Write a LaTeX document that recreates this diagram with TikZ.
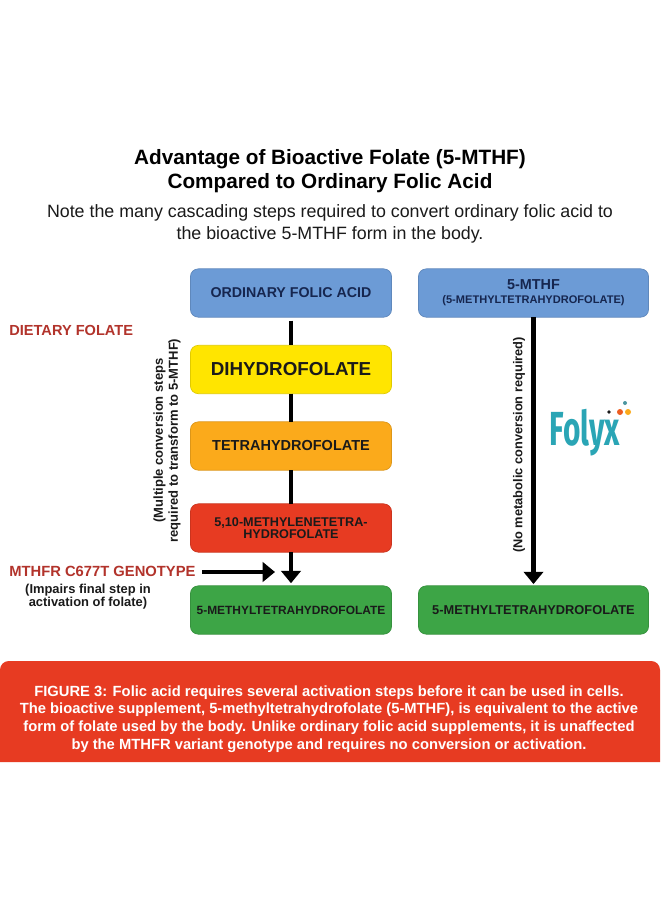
\documentclass[tikz,border=0pt]{standalone}
\usepackage{xcolor}
\usepackage{fontspec}
\setmainfont{Liberation Sans}
\newfontfamily\logofont{Fira Sans}
\usetikzlibrary{arrows.meta, positioning}
\definecolor{flblue}{HTML}{6C9BD6}
\definecolor{flyellow}{HTML}{FFE500}
\definecolor{florange}{HTML}{FBAA1B}
\definecolor{flred}{HTML}{E73B22}
\definecolor{flgreen}{HTML}{3DA546}
\definecolor{flnavy}{HTML}{16264F}
\definecolor{fllabel}{HTML}{B2332B}
\definecolor{flink}{HTML}{1A1A1A}
\definecolor{flteal}{HTML}{2AA5B5}
\newcommand{\fsize}[1]{\fontsize{#1}{#1}\selectfont}

\begin{document}
\begin{tikzpicture}[
    x=0.02cm, y=-0.02cm,
    stepbox/.style={rectangle, rounded corners=4.5pt, fill=#1, draw=#1!88!black, line width=0.4pt, minimum height=27.5pt, outer sep=0pt, inner sep=0pt, align=center, text=flink, font=\bfseries},
    leftbox/.style={stepbox=#1, minimum width=114.5pt},
    rightbox/.style={stepbox=#1, minimum width=131pt},
    link/.style={line width=2.3pt, color=black},
    linkhead/.style={link, -{Triangle[length=7pt, width=11pt]}},
    sidenote/.style={font=\bfseries\fontsize{7.4}{8.6}\selectfont, align=center, text=flink},
    redlabel/.style={font=\bfseries, text=fllabel, inner sep=0pt},
]

% page
\useasboundingbox (0,0) rectangle (660,900);
\fill[white] (0,0) rectangle (660,900);

% heading
\node[font=\bfseries\fontsize{11.8}{13.7}\selectfont, align=center, text=black] (title) at (330,171) {Advantage of Bioactive Folate (5-MTHF)\\Compared to Ordinary Folic Acid};
\node[font=\fontsize{10.15}{12.2}\selectfont, align=center, text=flink] (subtitle) at (330,224) {Note the many cascading steps required to convert ordinary folic acid to\\the bioactive 5-MTHF form in the body.};

% left column
\node[leftbox=flblue, text=flnavy, font=\bfseries\fsize{8.1}] (ordinary) at (291,293) {ORDINARY FOLIC ACID};
\node[leftbox=flyellow, font=\bfseries\fsize{10.7}] (dihydro) at (291,369.5) {DIHYDROFOLATE};
\node[leftbox=florange, font=\bfseries\fsize{8.25}] (tetra) at (291,446) {TETRAHYDROFOLATE};
\node[leftbox=flred, font=\bfseries\fontsize{7.2}{6}\selectfont] (methylene) at (291,528) {5,10-METHYLENETETRA-\\HYDROFOLATE};
\node[leftbox=flgreen, font=\bfseries\fsize{6.8}] (final) at (291,610) {5-METHYLTETRAHYDROFOLATE};

% right column
\node[rightbox=flblue, text=flnavy, font=\bfseries\fontsize{6.3}{8}\selectfont] (bioactive) at (533.5,293) {{\fsize{8.2}5-MTHF}\\(5-METHYLTETRAHYDROFOLATE)};
\node[rightbox=flgreen, font=\bfseries\fsize{7.3}] (finalright) at (533.5,610) {5-METHYLTETRAHYDROFOLATE};

% connectors
\draw[link, shorten <=2pt] (ordinary) -- (dihydro);
\draw[link] (dihydro) -- (tetra);
\draw[link] (tetra) -- (methylene);
\draw[linkhead, shorten >=1.5pt] (methylene) -- (final);
\draw[linkhead, shorten >=1pt] (bioactive) -- (finalright);

% side labels
\node[redlabel, font=\bfseries\fsize{8.3}, anchor=west] (dietary) at (9,330) {DIETARY FOLATE};
\node[redlabel, font=\bfseries\fsize{8.4}, anchor=west] (genotype) at (9,571) {MTHFR C677T GENOTYPE};
\node[sidenote, font=\bfseries\fontsize{7.35}{7.6}\selectfont] (impairs) at (88,596.5) {(Impairs final step in\\activation of folate)};
\coordinate (genotypeend) at (275,572);
\draw[linkhead] (202,572) -- (genotypeend);
\node[sidenote, rotate=90] (multiple) at (167,440.5) {(Multiple conversion steps\\required to transform to 5-MTHF)};
\node[sidenote, font=\bfseries\fsize{7.3}, rotate=90] (nometabolic) at (519,445) {(No metabolic conversion required)};

% logo
\node[font=\logofont\bfseries\fontsize{17}{17}\selectfont, text=flteal, yscale=1.6] (folyx) at (585,433) {Folyx};
\fill[flink] (609,412) circle (1.8);
\fill[flred!70!florange] (620,412) circle (3);
\fill[florange] (628,412) circle (3);
\fill[flteal!60!gray] (625,403) circle (2);

% caption
\fill[flred] (0,762) [rounded corners=5pt] -- (0,661) -- (660,661) [sharp corners] -- (660,762) -- cycle;
\node[font=\bfseries\fontsize{8.4}{10.1}\selectfont, align=center, text=white] (caption) at (329,719) {FIGURE 3: Folic acid requires several activation steps before it can be used in cells.\\The bioactive supplement, 5-methyltetrahydrofolate (5-MTHF), is equivalent to the active\\form of folate used by the body. Unlike ordinary folic acid supplements, it is unaffected\\by the MTHFR variant genotype and requires no conversion or activation.};

\end{tikzpicture}
\end{document}
